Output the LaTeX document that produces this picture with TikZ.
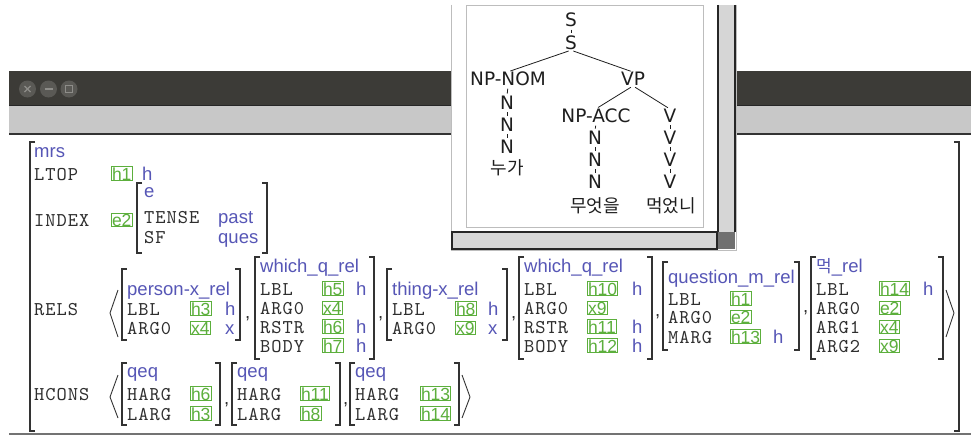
\documentclass[tikz,border=0pt]{standalone}
\usepackage{fontspec}
\setmainfont{Liberation Sans}
\newfontfamily\typfam{Liberation Sans}
\newfontfamily\treefam{DejaVu Sans}
\newfontfamily\krfam{Noto Sans CJK KR}
\newfontfamily\featfam[LetterSpace=5]{lmmono10-regular.otf}
\definecolor{featc}{HTML}{2E2E2E}
\definecolor{typc}{HTML}{5656B6}
\definecolor{tagc}{HTML}{5CAF3C}
\definecolor{brc}{HTML}{333333}
\definecolor{titlec}{HTML}{3C3B37}
\definecolor{toolc}{HTML}{C8C8C8}
\definecolor{btnc}{HTML}{5A5955}
\definecolor{btnsym}{HTML}{8E8D89}
\definecolor{sbc}{HTML}{D6D6D6}
\definecolor{cornc}{HTML}{707070}
\definecolor{framec}{HTML}{BDBDBD}
\definecolor{treec}{HTML}{1E1E1E}
\tikzset{
  feat/.style={anchor=base west, inner sep=0pt, text=featc, font={\featfam\fontsize{19.5}{21}\selectfont}},
  typ/.style={anchor=base west, inner sep=0pt, text=typc, font={\typfam\fontsize{18.5}{20}\selectfont}},
  comma/.style={anchor=base west, inner sep=0pt, text=featc, font={\typfam\fontsize{18.5}{20}\selectfont}},
  tag/.style={anchor=base west, draw=tagc, text=tagc, line width=0.8pt, inner sep=0.6pt, font={\typfam\fontsize{17.5}{19}\selectfont}},
  br/.style={line width=1.3pt, draw=brc},
  abr/.style={line width=0.9pt, draw=brc},
  tree/.style={inner sep=0pt, text=treec, font={\treefam\fontsize{18.5}{20}\selectfont}},
  krtree/.style={inner sep=0pt, text=treec, font={\krfam\fontsize{18}{20}\selectfont}},
  tline/.style={draw=treec, line width=0.8pt, shorten <=2.5pt, shorten >=2.5pt},
}
\newcommand\sqbr[4]{%
  \draw[br] ({#1+5},#2) -- (#1,#2) -- (#1,#4) -- ({#1+5},#4);
  \draw[br] ({#3-5},#2) -- (#3,#2) -- (#3,#4) -- ({#3-5},#4);}
\begin{document}
\begin{tikzpicture}[x=1pt,y=-1pt]
\useasboundingbox (0,0) rectangle (971,436);
\fill[white] (0,0) rectangle (971,436);
% main window chrome
\fill[titlec] (9,71) rectangle (971,105);
\draw[black!85, line width=1pt] (9,105.5) -- (971,105.5);
\fill[toolc] (9,106) rectangle (971,133.5);
\draw[black!80, line width=1.2pt] (9,134) -- (971,134);
\draw[black!55, line width=2pt] (9,434) -- (971,434);
% buttons
\fill[btnc] (27.5,89) circle (8.5);
\fill[btnc] (48.5,89) circle (8.5);
\fill[btnc] (69,89) circle (8.5);
\draw[btnsym, line width=1.1pt] (24.5,86) -- (30.5,92) (24.5,92) -- (30.5,86);
\draw[btnsym, line width=1.1pt] (44.5,89) -- (52.5,89);
\draw[btnsym, line width=1.1pt] (65.5,85.5) rectangle (72.5,92.5);

% tree window
\fill[white] (451,0) rectangle (736,250);
\draw[framec, line width=1pt] (451,5) -- (451,250) -- (736,250) -- (736,5);
\draw[framec, line width=1pt] (466,6) rectangle (703,227);
\fill[sbc] (718,5) rectangle (735,232);
\draw[black!85, line width=1.3pt] (718,5) -- (718,232) (735,5) -- (735,232);
\filldraw[fill=sbc, draw=black!85, line width=1.3pt] (452,232) rectangle (717,249);
\fill[cornc] (718,232) rectangle (735,249);

% tree
\node[tree] (s1) at (571,20) {S};
\node[tree] (s2) at (571,43) {S};
\node[tree] (npn) at (508,79) {NP-NOM};
\node[tree] (n1) at (507,103) {N};
\node[tree] (n2) at (507,125) {N};
\node[tree] (n3) at (507,147) {N};
\node[krtree] (w1) at (507,168) {누가};
\node[tree] (vp) at (633,79) {VP};
\node[tree] (npa) at (596,116) {NP-ACC};
\node[tree] (n4) at (595,138) {N};
\node[tree] (n5) at (595,160) {N};
\node[tree] (n6) at (595,182) {N};
\node[krtree] (w2) at (595,206) {무엇을};
\node[tree] (v1) at (670,116) {V};
\node[tree] (v2) at (670,138) {V};
\node[tree] (v3) at (670,160) {V};
\node[tree] (v4) at (670,182) {V};
\node[krtree] (w3) at (671,206) {먹었니};
\draw[tline] (s1.south) -- (s2.north);
\draw[tline] (s2.south) -- (npn.north);
\draw[tline] (s2.south) -- (vp.north);
\draw[tline] (npn.south) -- (n1.north);
\draw[tline] (n1.south) -- (n2.north);
\draw[tline] (n2.south) -- (n3.north);
\draw[tline] (vp.south) -- (npa.north);
\draw[tline] (vp.south) -- (v1.north);
\draw[tline] (npa.south) -- (n4.north);
\draw[tline] (n4.south) -- (n5.north);
\draw[tline] (n5.south) -- (n6.north);
\draw[tline] (v1.south) -- (v2.north);
\draw[tline] (v2.south) -- (v3.north);
\draw[tline] (v3.south) -- (v4.north);

% outer AVM
\sqbr{30}{142}{959}{431}
\node[typ] (mrs) at (34,157) {mrs};
\node[feat] (ltop) at (34,180) {LTOP};
\node[tag] (t1) at (111,180) {h1};
\node[typ] (t1t) at (142,180) {h};
\node[feat] (index) at (34,226) {INDEX};
\node[tag] (t2) at (111,226) {e2};
\sqbr{137}{183}{267}{253}
\node[typ] (ie) at (144,197) {e};
\node[feat] (tense) at (144,223) {TENSE};
\node[typ] (past) at (218,223) {past};
\node[feat] (sf) at (144,243) {SF};
\node[typ] (ques) at (218,243) {ques};

% RELS
\node[feat] (rels) at (34,315) {RELS};
\draw[abr] (118,290) -- (110,313) -- (118,337);
\sqbr{122}{269}{240}{340}
\node[typ] (r1) at (127,295) {person-x\_rel};
\node[feat] (r1a) at (127,315) {LBL};
\node[tag] (r1b) at (190,315) {h3};
\node[typ] (r1c) at (225,315) {h};
\node[feat] (r1d) at (127,334) {ARG0};
\node[tag] (r1e) at (190,334) {x4};
\node[typ] (r1f) at (225,334) {x};
\node[comma] (c1) at (245,318) {,};

\sqbr{255}{257}{374}{359}
\node[typ] (r2) at (260,272) {which\_q\_rel};
\node[feat] (r2a) at (260,295) {LBL};
\node[tag] (r2b) at (322,295) {h5};
\node[typ] (r2c) at (356,295) {h};
\node[feat] (r2d) at (260,314) {ARG0};
\node[tag] (r2e) at (322,314) {x4};
\node[feat] (r2f) at (260,333) {RSTR};
\node[tag] (r2g) at (322,333) {h6};
\node[typ] (r2h) at (356,333) {h};
\node[feat] (r2i) at (260,352) {BODY};
\node[tag] (r2j) at (322,352) {h7};
\node[typ] (r2k) at (356,352) {h};
\node[comma] (c2) at (378,318) {,};

\sqbr{387}{269}{507}{340}
\node[typ] (r3) at (392,295) {thing-x\_rel};
\node[feat] (r3a) at (392,315) {LBL};
\node[tag] (r3b) at (455,315) {h8};
\node[typ] (r3c) at (488,315) {h};
\node[feat] (r3d) at (392,334) {ARG0};
\node[tag] (r3e) at (455,334) {x9};
\node[typ] (r3f) at (488,334) {x};
\node[comma] (c3) at (511,318) {,};

\sqbr{519}{257}{652}{359}
\node[typ] (r4) at (524,272) {which\_q\_rel};
\node[feat] (r4a) at (524,295) {LBL};
\node[tag] (r4b) at (587,295) {h10};
\node[typ] (r4c) at (632,295) {h};
\node[feat] (r4d) at (524,314) {ARG0};
\node[tag] (r4e) at (587,314) {x9};
\node[feat] (r4f) at (524,333) {RSTR};
\node[tag] (r4g) at (587,333) {h11};
\node[typ] (r4h) at (632,333) {h};
\node[feat] (r4i) at (524,352) {BODY};
\node[tag] (r4j) at (587,352) {h12};
\node[typ] (r4k) at (632,352) {h};
\node[comma] (c4) at (655,316) {,};

\sqbr{663}{262}{799}{350}
\node[typ] (r5) at (668,283) {question\_m\_rel};
\node[feat] (r5a) at (668,305) {LBL};
\node[tag] (r5b) at (730,305) {h1};
\node[feat] (r5d) at (668,323) {ARG0};
\node[tag] (r5e) at (730,323) {e2};
\node[feat] (r5f) at (668,343) {MARG};
\node[tag] (r5g) at (730,343) {h13};
\node[typ] (r5h) at (773,343) {h};
\node[comma] (c5) at (803,312) {,};

\sqbr{811}{257}{943}{359}
\node[typ] (r6) at (816,272) {{\krfam\fontsize{17}{19}\selectfont 먹}\_rel};
\node[feat] (r6a) at (816,295) {LBL};
\node[tag] (r6b) at (879,295) {h14};
\node[typ] (r6c) at (923,295) {h};
\node[feat] (r6d) at (816,314) {ARG0};
\node[tag] (r6e) at (879,314) {e2};
\node[feat] (r6f) at (816,333) {ARG1};
\node[tag] (r6g) at (879,333) {x4};
\node[feat] (r6i) at (816,352) {ARG2};
\node[tag] (r6j) at (879,352) {x9};
\draw[abr] (946,290) -- (954,313) -- (946,337);

% HCONS
\node[feat] (hcons) at (34,400) {HCONS};
\draw[abr] (118,375) -- (110,397) -- (118,418);
\sqbr{122}{363}{220}{425}
\node[typ] (q1) at (127,377) {qeq};
\node[feat] (q1a) at (127,400) {HARG};
\node[tag] (q1b) at (190,400) {h6};
\node[feat] (q1c) at (127,420) {LARG};
\node[tag] (q1d) at (190,420) {h3};
\node[comma] (c6) at (224,404) {,};
\sqbr{232}{363}{340}{425}
\node[typ] (q2) at (237,377) {qeq};
\node[feat] (q2a) at (237,400) {HARG};
\node[tag] (q2b) at (300,400) {h11};
\node[feat] (q2c) at (237,420) {LARG};
\node[tag] (q2d) at (300,420) {h8};
\node[comma] (c7) at (343,404) {,};
\sqbr{350}{363}{459}{425}
\node[typ] (q3) at (355,377) {qeq};
\node[feat] (q3a) at (355,400) {HARG};
\node[tag] (q3b) at (420,400) {h13};
\node[feat] (q3c) at (355,420) {LARG};
\node[tag] (q3d) at (420,420) {h14};
\draw[abr] (462,375) -- (470,397) -- (462,418);
\end{tikzpicture}
\end{document}
